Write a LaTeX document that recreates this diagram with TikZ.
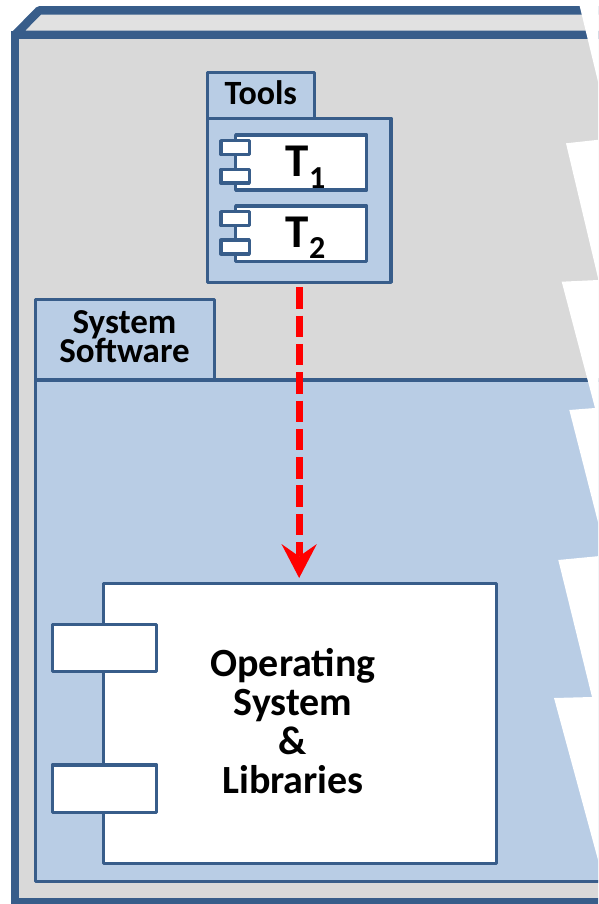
\documentclass[tikz,border=0pt]{standalone}
\usepackage{fontspec}
\setmainfont{Carlito}
\usetikzlibrary{arrows.meta}
\setlength{\lineskiplimit}{-50pt}
\definecolor{umlblue}{HTML}{385D8A}
\definecolor{umlfill}{HTML}{B9CDE5}
\definecolor{frontgray}{HTML}{D9D9D9}
\definecolor{topgray}{HTML}{E1E1E1}
\definecolor{dashred}{HTML}{FF0000}
\begin{document}
\begin{tikzpicture}[x=1pt,y=-1pt,
  outerline/.style={draw=umlblue,line width=8.5pt,line join=miter},
  pkgbox/.style={draw=umlblue,line width=3.5pt,fill=umlfill,line join=round,rectangle,inner sep=0pt,outer sep=0pt,anchor=north west},
  compbox/.style={pkgbox,fill=white},
  lbl/.style={inner sep=0pt,outer sep=0pt,text=black},
  dep/.style={draw=dashred,line width=7pt,dash pattern=on 21.5pt off 6.8pt,
    -{Stealth[length=34pt,width=35.4pt,inset=12.4pt,line width=0pt]}}
]
\path[use as bounding box] (0,0) rectangle (598,904);
\clip (0,0) rectangle (598,904);

% 3D hardware node
\draw[outerline, line join=bevel, fill=topgray] (15,35) -- (39,10.5) -- (660,10.5) -- (660,35) -- cycle;
\node[outerline, fill=frontgray, rectangle, inner sep=0pt, outer sep=0pt, anchor=north west,
      minimum width=645pt, minimum height=867.5pt] (hw) at (15,35) {};

% System Software package
\node[pkgbox, minimum width=179pt, minimum height=80.7pt] (sstab) at (35.3,299.3) {};
\node[pkgbox, minimum width=620pt, minimum height=501.5pt] (ssframe) at (35.3,380) {};
\node[lbl, font=\bfseries\fontsize{35}{29.5}\selectfont, align=center]
  (sslabel) at (124.5,336.5) {System\\Software};

% Tools package
\node[pkgbox, minimum width=107pt, minimum height=46pt] (toolstab) at (207.3,72.3) {};
\node[pkgbox, minimum width=183.7pt, minimum height=164pt] (toolsframe) at (207.3,118.3) {};
\node[lbl, font=\bfseries\fontsize{34}{34}\selectfont, anchor=base] (toolslabel) at (260.8,105) {Tools};

% T1 component
\node[compbox, minimum width=131pt, minimum height=55pt] (t1) at (235.7,135) {};
\node[compbox, minimum width=28.3pt, minimum height=13.7pt] (t1pa) at (221,140.7) {};
\node[compbox, minimum width=28.3pt, minimum height=13.7pt] (t1pb) at (221,169.4) {};
\node[lbl, font=\bfseries\fontsize{47}{47}\selectfont, anchor=base] (t1label) at (305.5,176.7)
  {T\raisebox{-11.6pt}{\fontsize{32}{32}\selectfont 1}};

% T2 component
\node[compbox, minimum width=131pt, minimum height=55.7pt] (t2) at (235.7,206) {};
\node[compbox, minimum width=28.3pt, minimum height=13.7pt] (t2pa) at (221,211.7) {};
\node[compbox, minimum width=28.3pt, minimum height=13.7pt] (t2pb) at (221,240.2) {};
\node[lbl, font=\bfseries\fontsize{47}{47}\selectfont, anchor=base] (t2label) at (305.5,247.2)
  {T\raisebox{-11.6pt}{\fontsize{32}{32}\selectfont 2}};

% Operating System component
\node[compbox, minimum width=393.4pt, minimum height=280pt] (os) at (103.3,583.3) {};
\node[compbox, minimum width=104.4pt, minimum height=47.4pt] (ospa) at (52.3,624.3) {};
\node[compbox, minimum width=104.4pt, minimum height=47.4pt] (ospb) at (52.3,765) {};
\node[lbl, font=\bfseries\fontsize{40}{39}\selectfont, align=center]
  (oslabel) at (293,721.5) {Operating\\System\\\&\\Libraries};

% dependency
\draw[dep, shorten <=5pt, shorten >=5.3pt] (toolsframe.south) -- (toolsframe.south |- os.north);

% torn right edge
\fill[white] (577,-5) -- (601,94) -- (601,139.5) -- (566,143.3) -- (598.5,280) -- (561.7,281.7)
  -- (595,408) -- (569.3,410) -- (600,530) -- (600,556) -- (558.3,560) -- (592,697)
  -- (554,698) -- (610,904) -- (660,910) -- (660,-5) -- cycle;
\end{tikzpicture}
\end{document}
